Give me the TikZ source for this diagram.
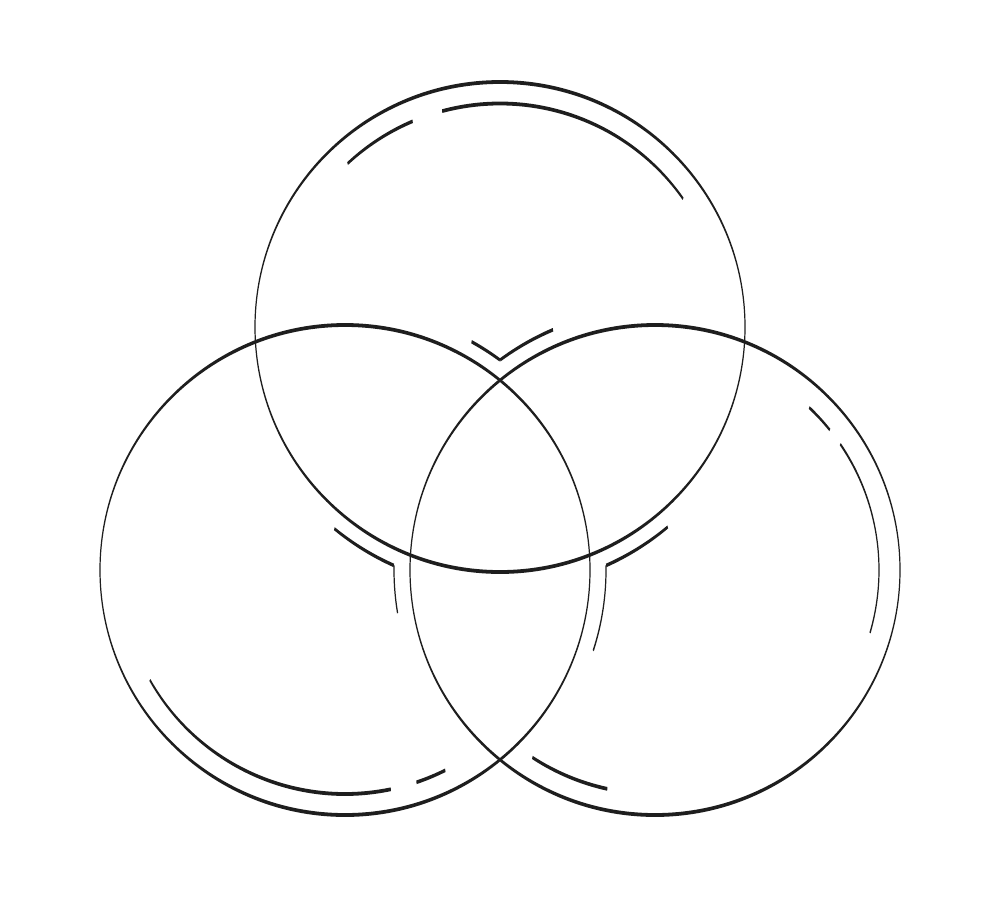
\documentclass[tikz,border=0pt]{standalone}
\usetikzlibrary{calc}
\definecolor{ink}{HTML}{1E1E1E}
% calligraphic arc: centre, radius, start angle, end angle (thick at top/bottom, thin at sides)
\newcommand\penarc[4]{%
  \fill[ink] ($(#1)+(#3:{#2+0.6} and {#2+1.9})$)
    arc[start angle=#3,end angle=#4,x radius={#2+0.6},y radius={#2+1.9}]
    -- ($(#1)+(#4:{#2-0.6} and {#2-1.9})$)
    arc[start angle=#4,end angle=#3,x radius={#2-0.6},y radius={#2-1.9}] -- cycle;}
\newcommand\penring[2]{%
  \fill[ink,even odd rule] (#1) ellipse[x radius={#2+0.6},y radius={#2+1.9}]
    (#1) ellipse[x radius={#2-0.6},y radius={#2-1.9}];}
\begin{document}
\begin{tikzpicture}[x=1pt,y=-1pt]
\fill[white] (0,0) rectangle (1000,900);
\useasboundingbox (0,0) rectangle (1000,900);
\coordinate (T) at (500,327);
\coordinate (L) at (345,570);
\coordinate (R) at (655,570);
% main circles
\penring{T}{245}
\penring{L}{245}
\penring{R}{245}
% inner offset arcs of the top region
\penarc{T}{223.5}{-133}{-113}
\penarc{T}{223.5}{-105}{-35}
\penarc{L}{261}{-61}{-53.6}
\penarc{R}{261}{-126.4}{-113}
% left region
\penarc{T}{261}{129.4}{114}
\penarc{R}{261}{181}{170.5}
\penarc{L}{224}{78.2}{150.6}
\penarc{L}{224}{63.4}{71.4}
% right region
\penarc{T}{261}{66}{50}
\penarc{L}{261}{-1}{18}
\penarc{R}{224}{-46.5}{-38.7}
\penarc{R}{224}{-34.2}{16.3}
\penarc{R}{224}{102.3}{123.2}
\end{tikzpicture}
\end{document}
